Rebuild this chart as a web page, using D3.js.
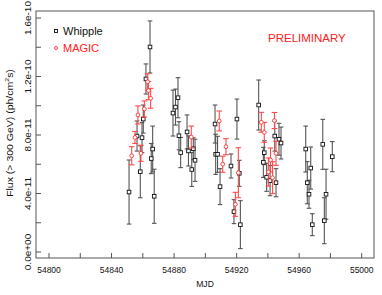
<!DOCTYPE html>
<html><head><meta charset="utf-8">
<script src="https://cdn.jsdelivr.net/npm/d3@7"></script>
<style>body{margin:0;background:#fff}svg{display:block;font-family:"Liberation Sans",Arial,sans-serif}</style>
</head><body><svg id="c" width="382" height="295"></svg>
<script>
// Whipple: MJD, flux (units of 1e-11 ph/cm2/s), error
const whippleMJD  = [54851.2,54856.3,54858.4,54859.5,54860.3,54862.0,54864.6,54866.3,54865.4,54867.3,54879.3,54880.9,54882.5,54883.1,54884.2,54888.3,54889.2,54892.3,54891.3,54893.4,54906.2,54906.6,54907.8,54909.4,54916.4,54920.2,54918.3,54921.7,54922.4,54934.1,54937.7,54937.1,54939.2,54941.4,54944.4,54945.2,54947.1,54948.4,54964.2,54967.4,54965.2,54966.3,54968.4,54975.1,54981.2,54977.2,54976.1];
const whippleFlux = [4.10,7.93,5.49,7.82,9.09,11.83,14.02,7.04,6.39,3.81,9.50,9.91,10.55,7.95,6.80,8.21,6.91,7.06,5.64,6.27,8.75,6.68,6.68,4.47,5.88,9.09,2.76,5.38,1.87,10.05,6.79,6.13,5.11,4.88,7.93,4.74,7.71,7.45,7.04,5.74,4.74,3.95,1.87,7.36,6.52,3.95,2.14];
const whippleErr  = [2.19,1.03,1.78,1.03,0.96,1.03,1.78,1.57,1.03,1.85,1.57,1.23,1.37,0.96,1.03,1.16,1.03,0.75,1.16,1.44,1.30,1.37,1.23,1.23,0.82,1.37,0.82,0.89,1.64,1.71,0.82,1.03,0.96,1.03,1.03,0.96,1.09,1.09,1.57,1.44,1.44,0.96,0.75,1.71,1.03,1.71,1.57];
// MAGIC
const magicMJD  = [54852.9,54855.0,54856.9,54858.8,54861.0,54863.1,54863.6,54865.0,54891.0,54908.9,54911.1,54913.2,54919.2,54921.1,54935.8,54937.7,54940.3,54941.7,54943.0,54944.2,54945.2];
const magicFlux = [6.58,7.83,9.37,6.75,9.78,11.64,11.04,10.51,7.86,8.96,6.00,7.20,3.26,5.42,8.87,8.18,5.47,6.29,5.08,8.99,6.75];
const magicErr  = [0.62,0.41,0.62,0.55,0.55,0.55,0.62,0.68,0.75,0.68,0.55,0.55,0.82,1.71,0.68,0.68,0.96,0.82,1.09,0.55,0.82];
const UNIT = 1e-11;
const xTicks = [54800,54820,54840,54860,54880,54900,54920,54940,54960,54980,55000];
const xLabels = [54800,54840,54880,54920,54960,55000];
const yTicks = [0,2e-11,4e-11,6e-11,8e-11,1e-10,1.2e-10,1.4e-10,1.6e-10];
const yLabels = ["0.0e+00","4.0e-11","8.0e-11","1.2e-10","1.6e-10"];
const yLabelVals = [0,4e-11,8e-11,1.2e-10,1.6e-10];

const svg = d3.select("#c");
const L=36,R=374,T=11,B=258;
const x = d3.scaleLinear().domain([54800,55000]).range([49,361.7]);
const y = d3.scaleLinear().domain([0,1.6e-10]).range([252,18]);
const frame="#555";

svg.append("rect").attr("x",L).attr("y",T).attr("width",R-L).attr("height",B-T)
  .attr("fill","none").attr("stroke",frame).attr("stroke-width",1);

// x ticks (inward)
svg.append("g").selectAll("line").data(xTicks).join("line")
  .attr("x1",d=>x(d)).attr("x2",d=>x(d)).attr("y1",B).attr("y2",B-5)
  .attr("stroke",frame);
svg.append("g").selectAll("text").data(xLabels).join("text")
  .attr("transform",d=>`translate(${x(d)},272.5) scale(1,1.15)`).attr("text-anchor","middle")
  .attr("font-size",8.5).attr("fill","#111").text(d=>d);
svg.append("text").attr("transform","translate(205,286.5) scale(1,1.15)").attr("text-anchor","middle")
  .attr("font-size",8.6).attr("fill","#111").text("MJD");

// y ticks
svg.append("g").selectAll("line").data(yTicks).join("line")
  .attr("x1",L).attr("x2",L+5).attr("y1",d=>y(d)).attr("y2",d=>y(d))
  .attr("stroke",frame);
svg.append("g").selectAll("text").data(yLabelVals).join("text")
  .attr("transform",d=>`translate(31,${y(d)}) rotate(-90) scale(1,0.87)`)
  .attr("text-anchor","middle").attr("font-size",10).attr("fill","#111")
  .text((d,i)=>yLabels[i]);
const yt = svg.append("text").attr("transform","translate(12.5,133) rotate(-90) scale(1,0.87)")
  .attr("text-anchor","middle").attr("font-size",10.5).attr("fill","#111");
yt.append("tspan").text("Flux (> 300 GeV) (ph/cm");
yt.append("tspan").attr("dy",-4).attr("font-size",7).text("2");
yt.append("tspan").attr("dy",4).text("s)");

function drawSeries(mjd, flux, err, color, cap, marker){
  const data = mjd.map((m,i)=>({m, f:flux[i]*UNIT, e:err[i]*UNIT}));
  const g = svg.append("g");
  g.selectAll(".bar").data(data).join("line")
    .attr("x1",d=>x(d.m)).attr("x2",d=>x(d.m))
    .attr("y1",d=>y(d.f+d.e)).attr("y2",d=>y(d.f-d.e))
    .attr("stroke",color).attr("stroke-width",1.1);
  g.selectAll(".capt").data(data).join("line")
    .attr("x1",d=>x(d.m)-cap).attr("x2",d=>x(d.m)+cap)
    .attr("y1",d=>y(d.f+d.e)).attr("y2",d=>y(d.f+d.e))
    .attr("stroke",color).attr("stroke-width",1.1);
  g.selectAll(".capb").data(data).join("line")
    .attr("x1",d=>x(d.m)-cap).attr("x2",d=>x(d.m)+cap)
    .attr("y1",d=>y(d.f-d.e)).attr("y2",d=>y(d.f-d.e))
    .attr("stroke",color).attr("stroke-width",1.1);
  marker(g, data);
}
drawSeries(whippleMJD, whippleFlux, whippleErr, "#555", 2.3, (g,data)=>{
  g.selectAll("rect").data(data).join("rect")
    .attr("x",d=>x(d.m)-1.8).attr("y",d=>y(d.f)-1.8).attr("width",3.6).attr("height",3.6)
    .attr("fill","#fff").attr("stroke","#111").attr("stroke-width",0.9);
});
drawSeries(magicMJD, magicFlux, magicErr, "#ff4a4a", 2.8, (g,data)=>{
  g.selectAll("circle").data(data).join("circle")
    .attr("cx",d=>x(d.m)).attr("cy",d=>y(d.f)).attr("r",1.9)
    .attr("fill","#fff").attr("stroke","#ff3030").attr("stroke-width",0.9);
});

// legend
svg.append("rect").attr("x",54.5).attr("y",29.5).attr("width",3).attr("height",3)
  .attr("fill","#fff").attr("stroke","#111").attr("stroke-width",0.9);
svg.append("text").attr("x",63).attr("y",35).attr("font-size",11).attr("fill","#111").text("Whipple");
svg.append("circle").attr("cx",56).attr("cy",48).attr("r",1.5)
  .attr("fill","#fff").attr("stroke","#ff3030").attr("stroke-width",0.9);
svg.append("text").attr("x",63).attr("y",52).attr("font-size",11).attr("fill","#ff2020").text("MAGIC");

svg.append("text").attr("x",268).attr("y",42).attr("font-size",11.5).attr("fill","#ff2020").text("PRELIMINARY");
</script></body></html>
